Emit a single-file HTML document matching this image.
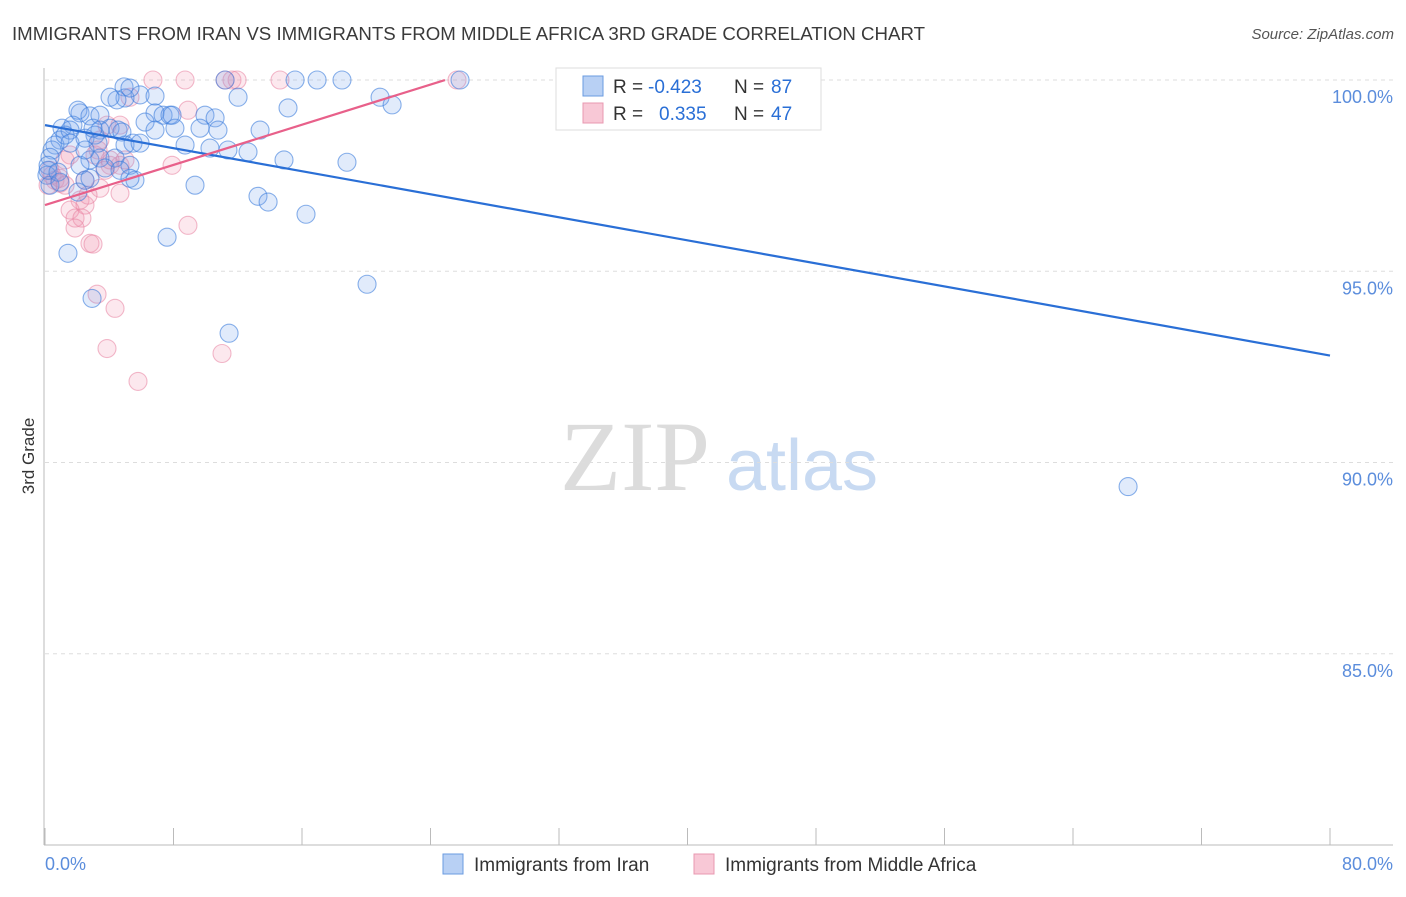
<!DOCTYPE html>
<html><head><meta charset="utf-8"><style>
body{margin:0;background:#fff;font-family:"Liberation Sans",sans-serif;}
</style></head><body>
<svg id="c" width="1406" height="892" xmlns="http://www.w3.org/2000/svg" style="font-family:'Liberation Sans',sans-serif">
<text x="12" y="40" font-size="18" fill="#3a3a3a" textLength="913" lengthAdjust="spacingAndGlyphs">IMMIGRANTS FROM IRAN VS IMMIGRANTS FROM MIDDLE AFRICA 3RD GRADE CORRELATION CHART</text>
<text x="1394" y="39" font-size="15" fill="#555" font-style="italic" text-anchor="end">Source: ZipAtlas.com</text>
<text x="34" y="456" font-size="17" fill="#333" text-anchor="middle" transform="rotate(-90 34 456)">3rd Grade</text>
<g><text x="635" y="490" font-size="100" fill="#dcdcdc" style="font-family:'Liberation Serif',serif" text-anchor="middle">ZIP</text><text x="802" y="490" font-size="72" fill="#c8daf2" text-anchor="middle">atlas</text></g>
<g id="grid"></g><g id="marks"></g>
<g>
<rect x="556" y="68" width="265" height="62" fill="#fff" stroke="#ddd"/>
<rect x="583" y="76" width="20" height="20" fill="#b8d0f4" stroke="#6a9be0"/>
<text y="93" font-size="19" fill="#333"><tspan x="613">R =</tspan><tspan x="648" fill="#2a6fd6">-0.423</tspan><tspan x="734">N =</tspan><tspan x="771" fill="#2a6fd6">87</tspan></text>
<rect x="583" y="103" width="20" height="20" fill="#f8c8d6" stroke="#e898b0"/>
<text y="120" font-size="19" fill="#333"><tspan x="613">R =</tspan><tspan x="659" fill="#2a6fd6">0.335</tspan><tspan x="734">N =</tspan><tspan x="771" fill="#2a6fd6">47</tspan></text>
</g>
<g>
<rect x="443" y="854" width="20" height="20" fill="#b8d0f4" stroke="#6a9be0"/>
<text x="474" y="871" font-size="19" fill="#333">Immigrants from Iran</text>
<rect x="694" y="854" width="20" height="20" fill="#f8c8d6" stroke="#e898b0"/>
<text x="725" y="871" font-size="19" fill="#333">Immigrants from Middle Africa</text>
</g>
</svg>
<script>
const xTicks=[0,10,20,30,40,50,60,70,80];
const yTicks=[85,90,95,100];
const xLabels=["0.0%","80.0%"];
const iranX=[4.92,5.92,6.85,4.98,4.48,5.29,6.85,7.35,7.78,2.18,2.05,2.80,1.06,1.74,0.93,0.62,0.44,0.31,0.19,1.25,1.56,3.42,4.05,4.55,4.79,3.42,3.11,2.80,2.18,3.42,4.36,5.29,4.98,5.48,2.49,2.80,5.60,6.23,6.85,8.09,8.72,9.96,10.59,9.65,10.77,10.27,11.39,12.64,13.39,12.02,11.21,15.57,16.94,18.49,25.84,15.13,20.86,21.61,14.88,18.80,9.34,13.26,13.89,16.25,7.60,1.43,20.05,2.93,11.46,67.43,0.12,0.31,0.19,0.81,1.56,2.49,3.74,2.05,3.30,4.05,5.92,7.91,4.67,5.29,0.93,2.49,2.99];
const iranY=[99.82,99.61,99.58,99.53,99.48,99.79,99.14,99.08,99.08,99.14,99.21,99.06,98.74,98.82,98.43,98.30,98.17,97.98,97.77,98.56,98.69,99.08,98.74,98.69,98.64,98.69,98.56,97.91,97.77,97.96,97.96,97.77,98.30,98.35,97.38,97.43,97.38,98.90,98.69,98.74,98.30,99.08,99.01,98.74,98.69,98.22,98.17,98.12,98.69,99.55,100,100,100,100,100,99.27,99.55,99.35,97.91,97.85,97.25,96.96,96.81,96.49,95.89,95.47,94.66,94.29,93.38,89.37,97.51,97.25,97.64,97.59,98.35,98.48,97.70,97.07,98.35,99.55,98.35,99.08,97.64,97.43,97.33,98.17,98.74];
const afrX=[6.72,8.72,11.21,11.64,11.96,14.63,25.65,5.29,8.90,4.67,3.86,3.42,3.11,1.56,1.25,4.05,0.31,0.44,0.62,0.93,0.19,4.67,4.98,7.91,3.74,3.42,4.67,2.49,2.18,2.49,1.56,1.87,2.30,1.87,2.80,2.99,8.90,3.24,4.36,3.86,11.02,5.79,0.93,1.25,2.68,4.05,3.30];
const afrY=[100,100,100,100,100,100,100,99.55,99.21,98.82,98.82,98.43,98.04,98.04,97.91,97.77,97.64,97.51,97.38,97.30,97.25,97.77,97.91,97.77,97.64,97.17,97.04,97.38,96.86,96.73,96.60,96.39,96.39,96.13,95.73,95.71,96.20,94.40,94.03,92.98,92.85,92.12,97.43,97.25,96.99,97.91,98.17];
const iranTrend=[98.82,-0.0753];
const afrTrend=[96.73,0.1313];
const afrTrendMaxX=24.9;
const NS="http://www.w3.org/2000/svg";
const X=v=>45+v*(1285/80), Y=v=>80+(100-v)*38.25;
function mk(t,a,p){const e=document.createElementNS(NS,t);for(const k in a)e.setAttribute(k,a[k]);p.appendChild(e);return e;}
const g=document.getElementById('grid'), m=document.getElementById('marks');
yTicks.forEach(t=>{
 const l=mk('line',{x1:45,x2:1393,y1:Y(t),y2:Y(t),stroke:'#ddd','stroke-dasharray':'4 4'},g);
 
 
 const tx=mk('text',{x:1393,y:Y(t)+23,'font-size':18,fill:'#5b8ddc','text-anchor':'end'},g);tx.textContent=t.toFixed(1)+'%';
 
 
});
const ya=mk('line',{x1:44,x2:44,y1:68,y2:845,stroke:'#bbb'},g);


const xa=mk('line',{x1:44,x2:1393,y1:845,y2:845,stroke:'#bbb'},g);


for(let i=0;i<=10;i++){const v=i*8;const t=mk('line',{x1:X(v),x2:X(v),y1:828,y2:845,stroke:'#bbb'},g);
 
 }
const l0=mk('text',{x:45,y:870,'font-size':18,fill:'#5b8ddc'},g);l0.textContent=xLabels[0];


const l1=mk('text',{x:1393,y:870,'font-size':18,fill:'#5b8ddc','text-anchor':'end'},g);l1.textContent=xLabels[1];


afrX.forEach((x,i)=>{const c=mk('circle',{cx:X(x),cy:Y(afrY[i]),r:9,fill:'rgba(242,150,178,0.22)',stroke:'rgba(232,130,160,0.55)','stroke-width':1.1},m);
 
 });
iranX.forEach((x,i)=>{const c=mk('circle',{cx:X(x),cy:Y(iranY[i]),r:9,fill:'rgba(120,165,235,0.22)',stroke:'rgba(60,125,220,0.6)','stroke-width':1.1},m);
 
 });
const tb=mk('line',{x1:X(0),y1:Y(iranTrend[0]),x2:X(80),y2:Y(iranTrend[0]+iranTrend[1]*80),stroke:'#2a6fd6','stroke-width':2.2},m);


const tp=mk('line',{x1:X(0),y1:Y(afrTrend[0]),x2:X(afrTrendMaxX),y2:Y(afrTrend[0]+afrTrend[1]*afrTrendMaxX),stroke:'#e8608a','stroke-width':2.2},m);


</script>
</body></html>
